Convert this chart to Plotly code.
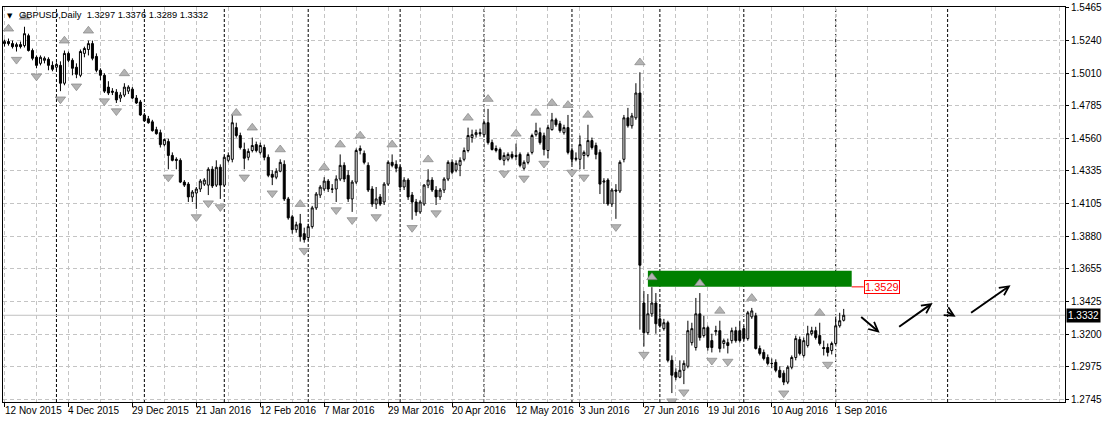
import plotly.graph_objects as go

# ---------------- data (GBPUSD daily, bar 0 = 12 Nov 2015) ----------------
open_ = [1.5217, 1.5231, 1.5217, 1.5196, 1.5210, 1.5203, 1.5272, 1.5169, 1.5122, 1.5080,
         1.5101, 1.5108, 1.5066, 1.5053, 1.5066, 1.4942, 1.5149, 1.5101, 1.5053, 1.4997,
         1.5149, 1.5176, 1.5217, 1.5128, 1.5032, 1.4997, 1.4915, 1.4887, 1.4880, 1.4839,
         1.4860, 1.4887, 1.4901, 1.4839, 1.4812, 1.4722, 1.4695, 1.4674, 1.4620, 1.4599,
         1.4516, 1.4537, 1.4441, 1.4414, 1.4407, 1.4256, 1.4242, 1.4153, 1.4180, 1.4208,
         1.4242, 1.4235, 1.4345, 1.4235, 1.4359, 1.4235, 1.4407, 1.4414, 1.4634, 1.4579,
         1.4482, 1.4428, 1.4475, 1.4516, 1.4462, 1.4496, 1.4428, 1.4310, 1.4290, 1.4331,
         1.4379, 1.4139, 1.4015, 1.3926, 1.3967, 1.3898, 1.3871, 1.3947, 1.4077, 1.4166,
         1.4208, 1.4263, 1.4208, 1.4208, 1.4277, 1.4372, 1.4303, 1.4139, 1.4256, 1.4475,
         1.4455, 1.4372, 1.4208, 1.4104, 1.4153, 1.4118, 1.4242, 1.4393, 1.4379, 1.4359,
         1.4222, 1.4270, 1.4166, 1.4118, 1.4049, 1.4104, 1.4235, 1.4270, 1.4201, 1.4153,
         1.4201, 1.4277, 1.4393, 1.4338, 1.4372, 1.4414, 1.4475, 1.4565, 1.4585, 1.4599,
         1.4585, 1.4668, 1.4530, 1.4489, 1.4482, 1.4407, 1.4414, 1.4448, 1.4441, 1.4448,
         1.4352, 1.4393, 1.4462, 1.4585, 1.4599, 1.4578, 1.4475, 1.4620, 1.4688, 1.4661,
         1.4599, 1.4634, 1.4475, 1.4414, 1.4414, 1.4441, 1.4441, 1.4544, 1.4510, 1.4462,
         1.4256, 1.4270, 1.4104, 1.4201, 1.4194, 1.4414, 1.4702, 1.4647, 1.4702, 1.4874,
         1.3417, 1.3211, 1.3342, 1.3417, 1.3307, 1.3239, 1.3280, 1.3019, 1.2936, 1.2902,
         1.2950, 1.2978, 1.3142, 1.3108, 1.3342, 1.3191, 1.3246, 1.3156, 1.3218, 1.3225,
         1.3136, 1.3142, 1.3156, 1.3225, 1.3225, 1.3239, 1.3170, 1.3321, 1.3328, 1.3101,
         1.3074, 1.3039, 1.2998, 1.3005, 1.2950, 1.2930, 1.2868, 1.2971, 1.3039, 1.3163,
         1.3053, 1.3122, 1.3204, 1.3225, 1.3191, 1.3108, 1.3108, 1.3087, 1.3136, 1.3259,
         1.3297]
high = [1.5245, 1.5252, 1.5238, 1.5224, 1.5231, 1.5334, 1.5286, 1.5183, 1.5135, 1.5135,
        1.5128, 1.5122, 1.5094, 1.5087, 1.5094, 1.5169, 1.5162, 1.5115, 1.5080, 1.5176,
        1.5196, 1.5238, 1.5238, 1.5149, 1.5046, 1.5011, 1.4956, 1.4908, 1.4901, 1.4880,
        1.4942, 1.4928, 1.4915, 1.4860, 1.4826, 1.4736, 1.4715, 1.4688, 1.4640, 1.4620,
        1.4558, 1.4558, 1.4462, 1.4428, 1.4421, 1.4270, 1.4256, 1.4201, 1.4222, 1.4277,
        1.4283, 1.4359, 1.4366, 1.4407, 1.4379, 1.4441, 1.4462, 1.4722, 1.4668, 1.4599,
        1.4530, 1.4489, 1.4565, 1.4537, 1.4530, 1.4516, 1.4448, 1.4338, 1.4352, 1.4414,
        1.4407, 1.4153, 1.4029, 1.3981, 1.4035, 1.3940, 1.3967, 1.4091, 1.4187, 1.4235,
        1.4290, 1.4277, 1.4242, 1.4303, 1.4448, 1.4393, 1.4338, 1.4270, 1.4489, 1.4510,
        1.4475, 1.4393, 1.4228, 1.4222, 1.4173, 1.4256, 1.4407, 1.4448, 1.4407, 1.4372,
        1.4290, 1.4283, 1.4187, 1.4139, 1.4132, 1.4242, 1.4345, 1.4290, 1.4228, 1.4215,
        1.4290, 1.4407, 1.4414, 1.4407, 1.4428, 1.4496, 1.4634, 1.4620, 1.4620, 1.4627,
        1.4681, 1.4764, 1.4551, 1.4510, 1.4496, 1.4462, 1.4462, 1.4469, 1.4523, 1.4462,
        1.4407, 1.4462, 1.4592, 1.4668, 1.4634, 1.4599, 1.4654, 1.4736, 1.4702, 1.4681,
        1.4654, 1.4722, 1.4496, 1.4462, 1.4579, 1.4475, 1.4654, 1.4565, 1.4530, 1.4482,
        1.4283, 1.4283, 1.4214, 1.4242, 1.4407, 1.4722, 1.4771, 1.4736, 1.4942, 1.5018,
        1.3500, 1.3479, 1.3527, 1.3486, 1.3410, 1.3307, 1.3294, 1.3053, 1.2964, 1.3019,
        1.3019, 1.3294, 1.3280, 1.3452, 1.3486, 1.3328, 1.3259, 1.3204, 1.3259, 1.3294,
        1.3170, 1.3170, 1.3246, 1.3252, 1.3294, 1.3259, 1.3362, 1.3383, 1.3349, 1.3122,
        1.3094, 1.3060, 1.3032, 1.3026, 1.2978, 1.2950, 1.2984, 1.3053, 1.3191, 1.3184,
        1.3177, 1.3259, 1.3252, 1.3252, 1.3280, 1.3156, 1.3136, 1.3149, 1.3321, 1.3349,
        1.3376]
low = [1.5196, 1.5203, 1.5183, 1.5162, 1.5183, 1.5190, 1.5162, 1.5101, 1.5046, 1.5066,
       1.5080, 1.5032, 1.5025, 1.5032, 1.4887, 1.4928, 1.5087, 1.4997, 1.4977, 1.4984,
       1.5122, 1.5135, 1.5101, 1.5018, 1.4963, 1.4874, 1.4860, 1.4860, 1.4805, 1.4812,
       1.4846, 1.4867, 1.4833, 1.4798, 1.4715, 1.4674, 1.4661, 1.4606, 1.4585, 1.4496,
       1.4503, 1.4345, 1.4400, 1.4345, 1.4249, 1.4222, 1.4118, 1.4118, 1.4070, 1.4187,
       1.4229, 1.4166, 1.4215, 1.4222, 1.4139, 1.4222, 1.4393, 1.4393, 1.4565, 1.4482,
       1.4345, 1.4407, 1.4462, 1.4462, 1.4448, 1.4407, 1.4290, 1.4235, 1.4276, 1.4324,
       1.4125, 1.3995, 1.3898, 1.3905, 1.3843, 1.3836, 1.3850, 1.3933, 1.4063, 1.4146,
       1.4194, 1.4187, 1.4180, 1.4118, 1.4263, 1.4256, 1.4118, 1.4049, 1.4242, 1.4448,
       1.4379, 1.4187, 1.4084, 1.4070, 1.4091, 1.4097, 1.4229, 1.4359, 1.4324, 1.4201,
       1.4201, 1.4132, 1.3995, 1.4022, 1.4036, 1.4091, 1.4214, 1.4187, 1.4097, 1.4132,
       1.4180, 1.4263, 1.4310, 1.4324, 1.4297, 1.4400, 1.4462, 1.4530, 1.4565, 1.4572,
       1.4565, 1.4516, 1.4475, 1.4462, 1.4407, 1.4372, 1.4400, 1.4414, 1.4407, 1.4359,
       1.4338, 1.4379, 1.4448, 1.4572, 1.4516, 1.4441, 1.4420, 1.4613, 1.4640, 1.4599,
       1.4585, 1.4448, 1.4379, 1.4400, 1.4345, 1.4345, 1.4428, 1.4482, 1.4414, 1.4173,
       1.4104, 1.4091, 1.4084, 1.4001, 1.4180, 1.4393, 1.4634, 1.4627, 1.4688, 1.3232,
       1.3115, 1.3197, 1.3321, 1.3204, 1.3246, 1.3225, 1.3005, 1.2792, 1.2881, 1.2895,
       1.2854, 1.2964, 1.3122, 1.3087, 1.3156, 1.3177, 1.3087, 1.3074, 1.3191, 1.3074,
       1.3101, 1.3067, 1.3136, 1.3142, 1.3142, 1.3156, 1.3156, 1.3307, 1.3094, 1.3053,
       1.3019, 1.2984, 1.2964, 1.2936, 1.2895, 1.2847, 1.2854, 1.2957, 1.3019, 1.3053,
       1.3039, 1.3108, 1.3191, 1.3163, 1.3122, 1.3053, 1.3046, 1.3060, 1.3122, 1.3246,
       1.3289]
close = [1.5231, 1.5217, 1.5196, 1.5210, 1.5196, 1.5286, 1.5169, 1.5115, 1.5066, 1.5122,
         1.5115, 1.5066, 1.5039, 1.5073, 1.4942, 1.5149, 1.5101, 1.5046, 1.5004, 1.5162,
         1.5183, 1.5217, 1.5115, 1.5032, 1.4997, 1.4887, 1.4874, 1.4880, 1.4826, 1.4860,
         1.4915, 1.4915, 1.4839, 1.4805, 1.4722, 1.4681, 1.4668, 1.4613, 1.4592, 1.4516,
         1.4551, 1.4441, 1.4407, 1.4407, 1.4256, 1.4235, 1.4153, 1.4187, 1.4208, 1.4263,
         1.4270, 1.4345, 1.4229, 1.4359, 1.4235, 1.4428, 1.4441, 1.4668, 1.4579, 1.4496,
         1.4421, 1.4469, 1.4510, 1.4475, 1.4510, 1.4428, 1.4303, 1.4290, 1.4331, 1.4393,
         1.4139, 1.4008, 1.3926, 1.3960, 1.3877, 1.3857, 1.3947, 1.4077, 1.4173, 1.4221,
         1.4263, 1.4208, 1.4207, 1.4277, 1.4372, 1.4277, 1.4139, 1.4256, 1.4475, 1.4489,
         1.4393, 1.4201, 1.4104, 1.4139, 1.4104, 1.4242, 1.4393, 1.4372, 1.4352, 1.4222,
         1.4270, 1.4153, 1.4118, 1.4049, 1.4118, 1.4235, 1.4270, 1.4201, 1.4153, 1.4201,
         1.4277, 1.4393, 1.4324, 1.4386, 1.4407, 1.4475, 1.4579, 1.4585, 1.4599, 1.4592,
         1.4668, 1.4530, 1.4482, 1.4475, 1.4414, 1.4441, 1.4448, 1.4428, 1.4434, 1.4372,
         1.4393, 1.4448, 1.4579, 1.4613, 1.4530, 1.4482, 1.4634, 1.4688, 1.4654, 1.4613,
         1.4634, 1.4462, 1.4414, 1.4421, 1.4516, 1.4462, 1.4544, 1.4496, 1.4448, 1.4242,
         1.4263, 1.4104, 1.4201, 1.4194, 1.4393, 1.4702, 1.4647, 1.4715, 1.4874, 1.3679,
         1.3211, 1.3342, 1.3417, 1.3273, 1.3259, 1.3280, 1.3019, 1.2916, 1.2902, 1.2950,
         1.2998, 1.3225, 1.3239, 1.3342, 1.3177, 1.3246, 1.3108, 1.3108, 1.3225, 1.3101,
         1.3156, 1.3122, 1.3225, 1.3156, 1.3156, 1.3170, 1.3349, 1.3362, 1.3101, 1.3067,
         1.3032, 1.2998, 1.2997, 1.2950, 1.2902, 1.2868, 1.2971, 1.3039, 1.3170, 1.3067,
         1.3156, 1.3204, 1.3225, 1.3177, 1.3136, 1.3101, 1.3074, 1.3136, 1.3259, 1.3294,
         1.3332]

# bar positions of the date labels and their text
date_label_bars = [0, 16, 32, 48, 64, 80, 96, 112, 128, 144, 160, 176, 192, 208]
date_labels = ["12 Nov 2015", "4 Dec 2015", "29 Dec 2015", "21 Jan 2016", "12 Feb 2016",
               "7 Mar 2016", "29 Mar 2016", "20 Apr 2016", "12 May 2016", "3 Jun 2016",
               "27 Jun 2016", "19 Jul 2016", "10 Aug 2016", "1 Sep 2016"]
grid_bars = list(range(8, 266, 16))
month_start_bars = [13, 35, 55, 76, 99, 120, 142, 164, 185, 208, 236]

price_ticks = [1.5465, 1.5240, 1.5010, 1.4785, 1.4560, 1.4335, 1.4105, 1.3880,
               1.3655, 1.3425, 1.3200, 1.2975, 1.2745]

# Bill Williams fractals (bar indices)
fractal_up_bars = [1, 5, 15, 21, 30, 58, 62, 69, 74, 80, 84, 89, 97, 106, 116, 121, 128,
                   133, 137, 141, 146, 159, 162, 174, 179, 187, 204]
fractal_down_bars = [3, 8, 14, 18, 25, 28, 41, 48, 51, 54, 60, 67, 75, 83, 87, 93, 102,
                     108, 125, 130, 135, 142, 145, 153, 160, 167, 170, 177, 181, 195, 206]

# resistance zone and its level
zone_bars = [161, 212]
zone_prices = [1.3529, 1.3640]
level_price = 1.3529

# hand-drawn forecast arrows: (from bar, from price, to bar, to price)
arrow_from_bar = [214, 223.5, 235.5, 241.5]
arrow_from_price = [1.3328, 1.3245, 1.3362, 1.3342]
arrow_to_bar = [219, 232.25, 238, 251.75]
arrow_to_price = [1.3211, 1.3417, 1.3321, 1.3541]

# ---------------- figure ----------------
FONT = "Liberation Sans, Arial, sans-serif"
GRID = "#c4c4c4"

bars = list(range(len(close)))
fig = go.Figure()

fig.add_trace(go.Candlestick(
    x=bars, open=open_, high=high, low=low, close=close,
    increasing=dict(line=dict(color="black", width=1), fillcolor="white"),
    decreasing=dict(line=dict(color="black", width=1), fillcolor="black"),
    whiskerwidth=0, hoverinfo="skip", showlegend=False))

up_gap, down_gap = 0.0068, 0.0056
fig.add_trace(go.Scatter(
    x=fractal_up_bars, y=[high[i] + up_gap for i in fractal_up_bars], mode="markers",
    marker=dict(symbol="triangle-up", size=9, color="#b3b3b3",
                line=dict(color="#858585", width=0.7)),
    hoverinfo="skip", showlegend=False))
fig.add_trace(go.Scatter(
    x=fractal_down_bars, y=[low[i] - down_gap for i in fractal_down_bars], mode="markers",
    marker=dict(symbol="triangle-down", size=9, color="#b3b3b3",
                line=dict(color="#858585", width=0.7)),
    hoverinfo="skip", showlegend=False))

shapes = []
for b in month_start_bars:
    shapes.append(dict(type="line", xref="x", yref="paper", x0=b, x1=b, y0=0, y1=1,
                       line=dict(color="black", width=1, dash="3px,2px"), layer="between"))
shapes.append(dict(type="rect", xref="x", yref="y", x0=zone_bars[0], x1=zone_bars[1],
                   y0=zone_prices[0], y1=zone_prices[1], fillcolor="#008000",
                   line=dict(width=0), layer="between"))
shapes.append(dict(type="line", xref="paper", yref="y", x0=0, x1=1,
                   y0=close[-1], y1=close[-1], line=dict(color="#c0c0c0", width=1),
                   layer="between"))
shapes.append(dict(type="line", xref="x", yref="y", x0=zone_bars[1], x1=zone_bars[1] + 3,
                   y0=level_price, y1=level_price, line=dict(color="red", width=1)))

annotations = []
for b, t in zip(date_label_bars, date_labels):
    annotations.append(dict(x=b, y=0, xref="x", yref="paper", text=t, showarrow=False,
                            xanchor="left", yanchor="top", xshift=-2, yshift=-1,
                            font=dict(family=FONT, size=10, color="black")))
annotations.append(dict(x=0, y=1, xref="paper", yref="paper", text="▼", showarrow=False,
                        xanchor="left", yanchor="top", xshift=2, yshift=-3,
                        font=dict(family="DejaVu Sans", size=7, color="black")))
annotations.append(dict(x=0, y=1, xref="paper", yref="paper",
                        text="GBPUSD,Daily  %.4f %.4f %.4f %.4f" % (open_[-1], high[-1], low[-1], close[-1]),
                        showarrow=False, xanchor="left", yanchor="top", xshift=14, yshift=-1,
                        font=dict(family=FONT, size=9.3, color="black")))
annotations.append(dict(x=1, y=close[-1], xref="paper", yref="y", text="%.4f" % close[-1],
                        showarrow=False, xanchor="left", yanchor="middle", xshift=1,
                        bgcolor="black", borderpad=1,
                        font=dict(family=FONT, size=10, color="white")))
annotations.append(dict(x=zone_bars[1] + 3, y=level_price, xref="x", yref="y",
                        text="%.4f" % level_price, showarrow=False, xanchor="left",
                        yanchor="middle", bgcolor="white", bordercolor="red", borderwidth=1,
                        borderpad=0, font=dict(family=FONT, size=11, color="red")))
for fb, fp, tb, tp in zip(arrow_from_bar, arrow_from_price, arrow_to_bar, arrow_to_price):
    annotations.append(dict(x=tb, y=tp, ax=fb, ay=fp, xref="x", yref="y", axref="x",
                            ayref="y", text="", showarrow=True, arrowhead=5, arrowsize=0.9,
                            arrowwidth=2, arrowcolor="black", standoff=0, startstandoff=0))

fig.update_layout(
    width=1105, height=424, margin=dict(l=2, r=40, t=3, b=22),
    paper_bgcolor="white", plot_bgcolor="white", showlegend=False,
    font=dict(family=FONT, size=10, color="black"),
    shapes=shapes, annotations=annotations, boxgap=0.5, boxgroupgap=0)

fig.update_xaxes(
    range=[-0.375, 265.375], rangeslider_visible=False, showline=True, mirror=True,
    linecolor="black", linewidth=1, tickvals=date_label_bars, showticklabels=False,
    ticks="outside", ticklen=4, tickcolor="black", showgrid=True, gridcolor=GRID,
    gridwidth=1, griddash="4px,3px", zeroline=False,
    minor=dict(tickvals=grid_bars, showgrid=True, gridcolor=GRID, gridwidth=1,
               griddash="4px,3px", ticks=""))
fig.update_yaxes(
    side="right", range=[1.2730, 1.5471], tickvals=price_ticks,
    ticktext=["%.4f" % v for v in price_ticks], ticks="outside", ticklen=3,
    tickcolor="black", showline=True, mirror=True, linecolor="black", linewidth=1,
    showgrid=True, gridcolor=GRID, gridwidth=1, griddash="4px,3px", zeroline=False,
    ticklabeloverflow="allow", tickfont=dict(family=FONT, size=10, color="black"))

fig.write_html("out.html", config={"displayModeBar": False},
               post_script="document.body.style.margin='0';document.body.style.padding='0';")
